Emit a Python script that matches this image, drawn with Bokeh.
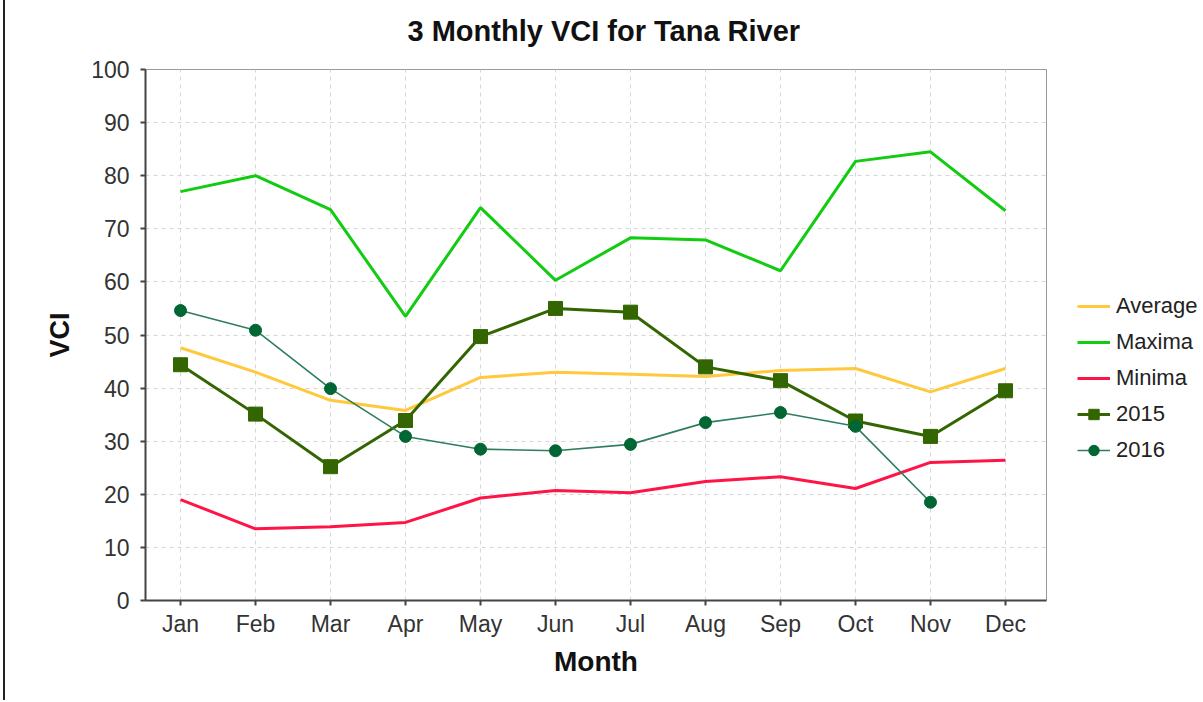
from bokeh.plotting import figure
from bokeh.models import (FixedTicker, Legend, LegendItem, Range1d)
from bokeh.embed import file_html
from bokeh.resources import INLINE

months = ["Jan", "Feb", "Mar", "Apr", "May", "Jun", "Jul", "Aug", "Sep", "Oct", "Nov", "Dec"]
average = [47.6, 43.0, 37.7, 35.8, 42.0, 43.0, 42.6, 42.2, 43.3, 43.7, 39.3, 43.7]
maxima = [77.0, 80.0, 73.6, 53.5, 74.0, 60.3, 68.3, 67.9, 62.1, 82.7, 84.5, 73.4]
minima = [19.0, 13.5, 13.9, 14.7, 19.3, 20.7, 20.3, 22.4, 23.3, 21.1, 26.0, 26.4]
y2015 = [44.4, 35.1, 25.2, 33.9, 49.7, 55.0, 54.3, 44.0, 41.4, 33.8, 30.9, 39.5]
y2016 = [54.6, 50.9, 39.9, 30.9, 28.5, 28.2, 29.4, 33.5, 35.4, 32.8, 18.5]
y_ticks = list(range(0, 101, 10))

x_all = list(range(len(months)))
x_2016 = list(range(len(y2016)))

FONT = "Liberation Sans"

p = figure(frame_width=901, frame_height=531, output_backend="svg", toolbar_location=None,
           x_range=Range1d(-0.467, 11.547), y_range=Range1d(0, 100),
           min_border_left=140, min_border_right=149, min_border_top=0, min_border_bottom=100,
           title="3 Monthly VCI for Tana River")
p.styles = {"border-left": "2px solid #222222", "border-top": "2px solid #222222",
            "margin-left": "3px", "margin-top": "-12px"}

p.title.text_font = FONT
p.title.text_font_size = "29px"
p.title.text_font_style = "bold"
p.title.text_color = "#111111"
p.title.align = "left"
p.title.offset = 262
p.title.standoff = 45

p.outline_line_color = "#999999"
p.outline_line_width = 1
p.background_fill_color = "white"
p.border_fill_color = "white"

p.xaxis.ticker = FixedTicker(ticks=x_all)
p.xaxis.major_label_overrides = {i: m for i, m in enumerate(months)}
p.yaxis.ticker = FixedTicker(ticks=y_ticks)

for ax in (p.xaxis[0], p.yaxis[0]):
    ax.axis_line_color = "#444444"
    ax.axis_line_width = 2
    ax.major_tick_line_color = "#444444"
    ax.major_tick_line_width = 2
    ax.major_tick_out = 5
    ax.major_tick_in = 0
    ax.minor_tick_line_color = None
    ax.major_label_text_font = FONT
    ax.major_label_text_font_size = "23px"
    ax.major_label_text_color = "#333333"
    ax.axis_label_text_font = FONT
    ax.axis_label_text_font_style = "bold"
    ax.axis_label_text_color = "#111111"

p.xaxis.axis_label = "Month"
p.xaxis.axis_label_text_font_size = "28px"
p.xaxis.major_label_standoff = 5
p.xaxis.axis_label_standoff = 6
p.yaxis.axis_label = "VCI"
p.yaxis.axis_label_text_font_size = "27px"
p.yaxis.major_label_standoff = 11
p.yaxis.axis_label_standoff = 13

for g in (p.xgrid[0], p.ygrid[0]):
    g.grid_line_color = "#d6d6d6"
    g.grid_line_dash = "4 4"
    g.grid_line_width = 1

r_avg = p.line(x_all, average, line_color="#ffc83d", line_width=3)
r_max = p.line(x_all, maxima, line_color="#11cc11", line_width=3)
r_min = p.line(x_all, minima, line_color="#ff1447", line_width=3)
r15l = p.line(x_all, y2015, line_color="#336600", line_width=3)
r15m = p.scatter(x_all, y2015, marker="square", size=14, fill_color="#336600", line_color="#336600")
r16l = p.line(x_2016, y2016, line_color="#2e7d5b", line_width=1.6)
r16m = p.scatter(x_2016, y2016, marker="circle", size=12, fill_color="#006633", line_color="#006633")

legend = Legend(items=[
    LegendItem(label="Average", renderers=[r_avg]),
    LegendItem(label="Maxima", renderers=[r_max]),
    LegendItem(label="Minima", renderers=[r_min]),
    LegendItem(label="2015", renderers=[r15l, r15m]),
    LegendItem(label="2016", renderers=[r16l, r16m]),
], location=(31, 137))
legend.label_text_font = FONT
legend.label_text_font_size = "22px"
legend.label_text_color = "#222222"
legend.glyph_width = 33
legend.glyph_height = 26
legend.label_height = 26
legend.spacing = 10
legend.label_standoff = 6
legend.padding = 10
legend.margin = 0
legend.border_line_color = None
legend.background_fill_alpha = 0
p.add_layout(legend, "right")

open("out.html", "w").write(file_html(p, INLINE))
